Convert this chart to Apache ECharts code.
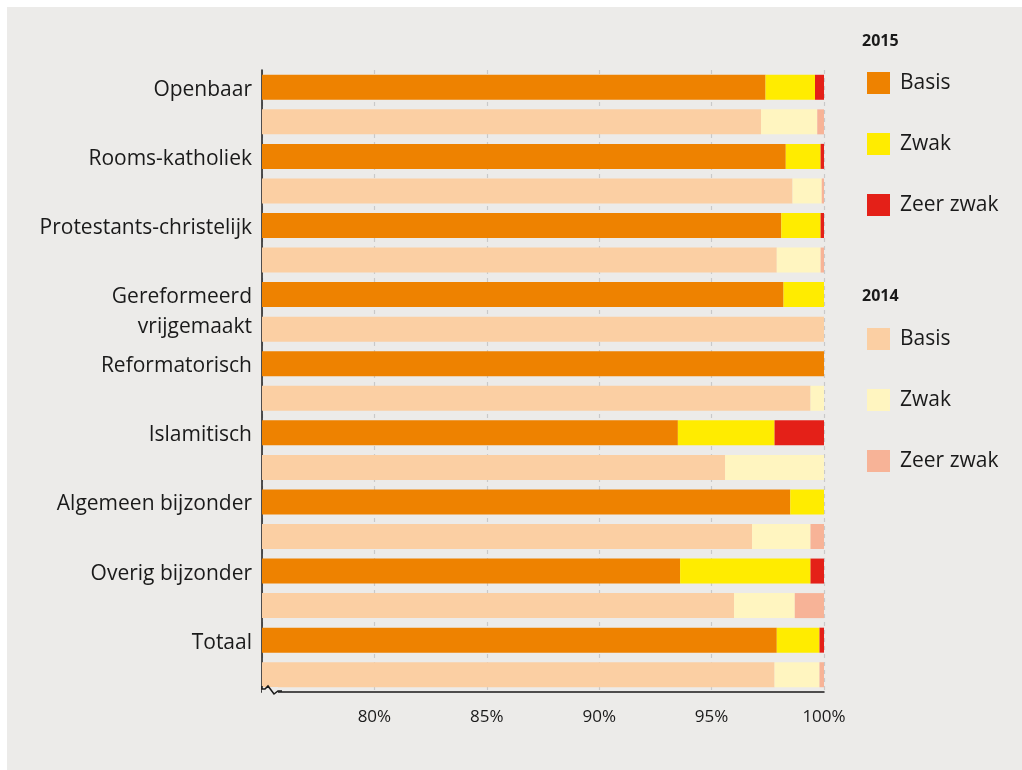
<!DOCTYPE html>
<html>
<head>
<meta charset="utf-8">
<script src="https://cdn.jsdelivr.net/npm/echarts@6/dist/echarts.min.js"></script>
<style>
html,body{margin:0;padding:0;background:#ffffff;}
#main{width:1022px;height:770px;}
</style>
</head>
<body>
<div id="main"></div>
<script>
// Categories (top to bottom)
var categories = ['Openbaar','Rooms-katholiek','Protestants-christelijk','Gereformeerd\nvrijgemaakt','Reformatorisch','Islamitisch','Algemeen bijzonder','Overig bijzonder','Totaal'];
// 2015 values (%)
var basis2015    = [97.4, 98.3, 98.1, 98.2, 100, 93.5, 98.5, 93.6, 97.9];
var zwak2015     = [2.2, 1.55, 1.75, 1.8, 0, 4.3, 1.5, 5.8, 1.9];
var zeerZwak2015 = [0.4, 0.15, 0.15, 0, 0, 2.2, 0, 0.6, 0.2];
// 2014 values (%)
var basis2014    = [97.2, 98.6, 97.9, 100, 99.4, 95.6, 96.8, 96.0, 97.8];
var zwak2014     = [2.5, 1.3, 1.95, 0, 0.6, 4.4, 2.6, 2.7, 2.0];
var zeerZwak2014 = [0.3, 0.1, 0.15, 0, 0, 0, 0.6, 1.3, 0.2];
// Axis ticks
var xMin = 75, xMax = 100, xStep = 5;

var colors = {
  b15:'#ee8200', z15:'#ffec00', zz15:'#e42018',
  b14:'#fbcfa3', z14:'#fff5c0', zz14:'#f7b397'
};

// build 18 rows: for each category, a 2015 row then a 2014 row
var rows = [];
categories.forEach(function(c){
  rows.push(c + '|2015');
  rows.push(c + '|2014');
});
function expand(arr, year){
  var out = [];
  arr.forEach(function(v){
    if (year === 2015){ out.push(v); out.push('-'); }
    else { out.push('-'); out.push(v); }
  });
  return out;
}

var chart = echarts.init(document.getElementById('main'));
var textColor = '#1a1a1a';
var font = 'Open Sans';

function mk(name, data, color){
  return {
    name: name, type: 'bar', stack: 'all', data: data,
    barWidth: 25, itemStyle: {color: color}, emphasis: {disabled: true},
    z: 3
  };
}

var option = {
  backgroundColor: 'transparent',
  animation: false,
  textStyle: {fontFamily: font},
  graphic: [
    {type:'rect', z:-10, silent:true, shape:{x:7,y:7,width:1015,height:763}, style:{fill:'#ecebe9'}},
    {type:'text', left:862, top:33, style:{text:'2015', font:'bold 16px "Open Sans"', fill:textColor}},
    {type:'text', left:862, top:288, style:{text:'2014', font:'bold 16px "Open Sans"', fill:textColor}},
    {type:'rect', z:50, silent:true, shape:{x:262,y:687,width:16,height:8}, style:{fill:'#ecebe9'}},
    {type:'polyline', z:51, silent:true, shape:{points:[[262,686],[262,689],[265,689],[268,686],[274,694],[278,691],[282,691]]}, style:{stroke:'#1a1a1a', lineWidth:1.5, fill:null}}
  ],
  legend: [
    {
      orient:'vertical', left:862, top:67, itemWidth:23, itemHeight:22, itemGap:39,
      data:['Basis 2015','Zwak 2015','Zeer zwak 2015'],
      icon:'rect', selectedMode:false,
      formatter:function(n){return n.replace(/ 2015$/,'');},
      textStyle:{fontSize:21, color:textColor, fontFamily:font, padding:[0,0,0,5]}
    },
    {
      orient:'vertical', left:862, top:323, itemWidth:23, itemHeight:22, itemGap:39,
      data:['Basis 2014','Zwak 2014','Zeer zwak 2014'],
      icon:'rect', selectedMode:false,
      formatter:function(n){return n.replace(/ 2014$/,'');},
      textStyle:{fontSize:21, color:textColor, fontFamily:font, padding:[0,0,0,5]}
    }
  ],
  grid: {left:262, right:198, top:70, bottom:78, containLabel:false},
  xAxis: {
    type:'value', min:xMin, max:xMax, interval:xStep,
    axisLine:{show:true, lineStyle:{color:'#1a1a1a', width:1.5}},
    axisTick:{show:false},
    axisLabel:{
      showMinLabel:false, fontSize:17, color:textColor, margin:17, fontFamily:font,
      formatter:function(v){return v === xMin ? '' : v + '%';}
    },
    splitLine:{show:true, lineStyle:{color:'#c9c9c9', type:[4,4], width:1.2}}
  },
  yAxis: {
    type:'category', inverse:true, data: rows,
    axisLine:{show:true, lineStyle:{color:'#1a1a1a', width:1.5}},
    axisTick:{show:false},
    axisLabel:{
      fontSize:21, color:textColor, margin:10, fontFamily:font, interval:0,
      formatter:function(v){
        var p = v.split('|');
        if (p[1] !== '2015') return '';
        if (p[0].indexOf('\n') >= 0) {
          var parts = p[0].split('\n');
          return '{s| }\n{g|' + parts[0] + '}\n{g|' + parts[1] + '}';
        }
        return '{n|' + p[0] + '}';
      },
      rich:{
        s:{fontSize:10, lineHeight:34, fontFamily:font},
        g:{fontSize:21, lineHeight:30, color:textColor, fontFamily:font},
        n:{fontSize:21, lineHeight:30, color:textColor, fontFamily:font, padding:[5,0,0,0]}
      }
    },
    splitLine:{show:false}
  },
  series: [
    mk('Basis 2015', expand(basis2015, 2015), colors.b15),
    mk('Zwak 2015', expand(zwak2015, 2015), colors.z15),
    mk('Zeer zwak 2015', expand(zeerZwak2015, 2015), colors.zz15),
    mk('Basis 2014', expand(basis2014, 2014), colors.b14),
    mk('Zwak 2014', expand(zwak2014, 2014), colors.z14),
    mk('Zeer zwak 2014', expand(zeerZwak2014, 2014), colors.zz14)
  ]
};
chart.setOption(option);
</script>
</body>
</html>
